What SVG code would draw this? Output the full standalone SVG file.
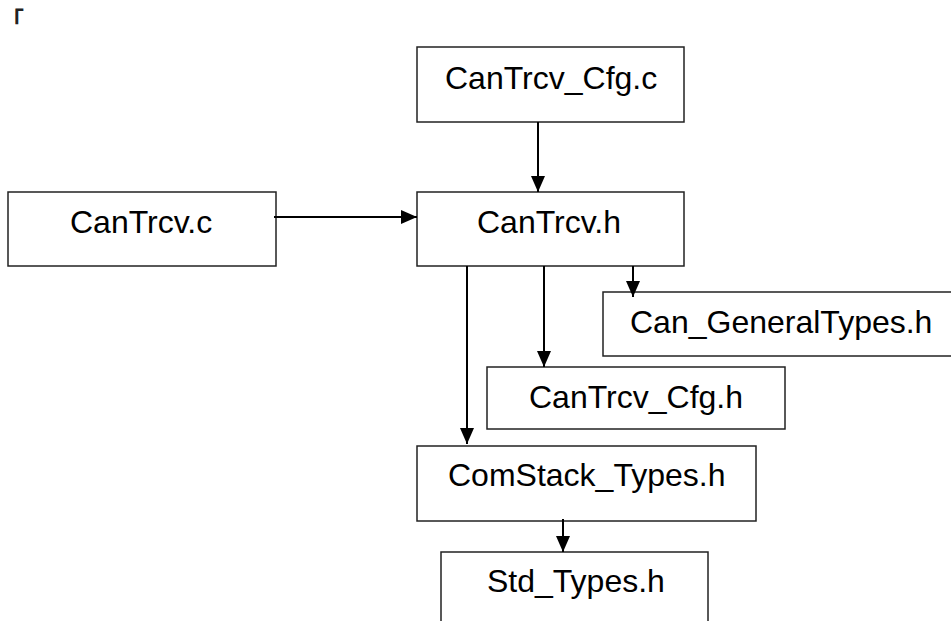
<svg xmlns="http://www.w3.org/2000/svg" width="951" height="621" viewBox="0 0 951 621">
<style>
.box{fill:#fff;stroke:#222;stroke-width:1.5}
.lbl{font-family:"Liberation Sans",Arial,sans-serif;font-size:32px;fill:#000}
.edge{stroke:#000;stroke-width:2;fill:none;marker-end:url(#ah)}
</style>
<defs>
<marker id="ah" markerUnits="userSpaceOnUse" markerWidth="16" markerHeight="14" viewBox="0 0 16 14" refX="16" refY="7" orient="auto">
<path d="M0,0 L16,7 L0,14 Z" fill="#000"/>
</marker>
</defs>
<text x="0" y="29" style="font-family:'Noto Sans CJK JP','Noto Sans CJK SC',sans-serif;font-size:24px;font-weight:bold;fill:#222">「</text>
<g id="n_cfg_c"><rect class="box" x="417" y="47" width="267" height="75"/><text class="lbl" x="445" y="89">CanTrcv_Cfg.c</text></g>
<g id="n_c"><rect class="box" x="8" y="192" width="268" height="74"/><text class="lbl" x="70" y="233">CanTrcv.c</text></g>
<g id="n_h"><rect class="box" x="417" y="192" width="267" height="74"/><text class="lbl" x="477" y="233">CanTrcv.h</text></g>
<g id="n_gen"><rect class="box" x="603" y="292" width="350" height="64"/><text class="lbl" x="630" y="333">Can_GeneralTypes.h</text></g>
<g id="n_cfg_h"><rect class="box" x="487" y="367" width="298" height="62"/><text class="lbl" x="529" y="408">CanTrcv_Cfg.h</text></g>
<g id="n_com"><rect class="box" x="417" y="446" width="339" height="75"/><text class="lbl" x="448" y="486">ComStack_Types.h</text></g>
<g id="n_std"><rect class="box" x="441" y="552" width="267" height="80"/><text class="lbl" x="487" y="592">Std_Types.h</text></g>
<g id="edges">
<line class="edge" x1="538" y1="122" x2="538" y2="192"/>
<line class="edge" x1="274" y1="217" x2="417" y2="217"/>
<line class="edge" x1="633" y1="266" x2="633" y2="297"/>
<line class="edge" x1="544" y1="266" x2="544" y2="367"/>
<line class="edge" x1="467" y1="266" x2="467" y2="444"/>
<line class="edge" x1="563" y1="519" x2="563" y2="552"/>
</g>
</svg>
